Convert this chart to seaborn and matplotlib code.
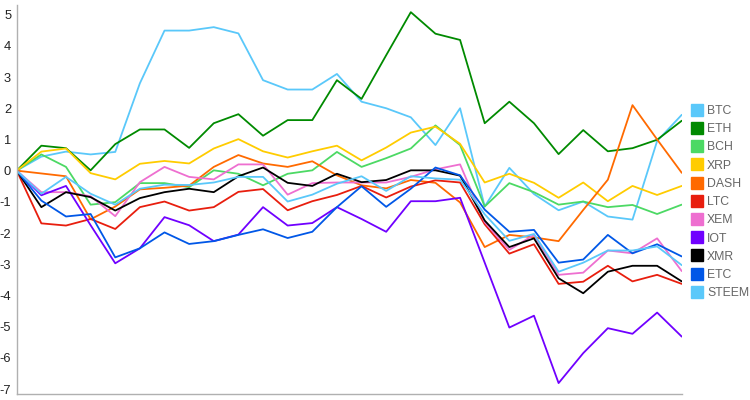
import matplotlib
matplotlib.use("Agg")
import matplotlib.pyplot as plt
from matplotlib.lines import Line2D
import seaborn as sns
import pandas as pd
import numpy as np

coins = ["BTC", "ETH", "BCH", "XRP", "DASH", "LTC", "XEM", "IOT", "XMR", "ETC", "STEEM"]
colors = ["#5ac8fa", "#008a00", "#4cd964", "#ffcc00", "#ff6a00", "#e81e0e",
          "#ee6fd0", "#7000ff", "#000000", "#0057e7", "#5ac8fa"]

BTC = [0, 0.45, 0.61, 0.52, 0.6, 2.8, 4.49, 4.49, 4.6, 4.4, 2.9, 2.6, 2.6, 3.1,
       2.21, 2.0, 1.71, 0.82, 2.0, -1.15, 0.09, -0.75, -1.27, -0.99, -1.47, -1.57, 0.95, 1.79]
ETH = [0, 0.8, 0.72, 0.01, 0.85, 1.32, 1.32, 0.73, 1.52, 1.81, 1.12, 1.62, 1.62, 2.9,
       2.3, 3.7, 5.08, 4.39, 4.19, 1.52, 2.21, 1.52, 0.53, 1.3, 0.62, 0.72, 0.99, 1.6]
BCH = [0, 0.52, 0.12, -1.09, -1.01, -0.4, -0.4, -0.53, 0.01, -0.1, -0.47, -0.1, 0.01, 0.6,
       0.12, 0.4, 0.71, 1.45, 0.82, -1.15, -0.4, -0.69, -1.09, -0.99, -1.17, -1.1, -1.39, -1.09]
XRP = [0, 0.61, 0.71, -0.08, -0.28, 0.22, 0.31, 0.23, 0.71, 1.01, 0.62, 0.42, 0.62, 0.8,
       0.33, 0.74, 1.22, 1.41, 0.86, -0.38, -0.1, -0.39, -0.87, -0.38, -0.98, -0.49, -0.78, -0.49]
DASH = [0, -0.09, -0.18, -1.56, -1.15, -0.6, -0.55, -0.48, 0.12, 0.5, 0.23, 0.12, 0.3, -0.15,
        -0.47, -0.57, -0.3, -0.39, -1.02, -2.45, -2.06, -2.14, -2.26, -1.26, -0.29, 2.1, 1.0, -0.07]
LTC = [0, -1.69, -1.76, -1.55, -1.87, -1.17, -0.99, -1.28, -1.17, -0.68, -0.59, -1.27, -0.98, -0.78,
       -0.49, -0.86, -0.51, -0.31, -0.38, -1.72, -2.66, -2.36, -3.63, -3.56, -3.05, -3.55, -3.34, -3.63]
XEM = [0, -0.69, -0.69, -0.82, -1.46, -0.37, 0.12, -0.2, -0.28, 0.2, 0.2, -0.77, -0.4, -0.38,
       -0.38, -0.38, -0.2, 0.04, 0.2, -1.65, -2.54, -2.06, -3.34, -3.27, -2.56, -2.65, -2.17, -3.22]
IOT = [0, -0.79, -0.49, -1.75, -2.97, -2.49, -1.49, -1.75, -2.26, -2.05, -1.17, -1.76, -1.68, -1.17,
       -1.55, -1.96, -0.98, -0.98, -0.87, -2.95, -5.03, -4.65, -6.81, -5.85, -5.05, -5.23, -4.55, -5.32]
XMR = [0, -1.17, -0.69, -0.85, -1.28, -0.88, -0.69, -0.58, -0.69, -0.18, 0.1, -0.39, -0.49, -0.1,
       -0.37, -0.3, 0.01, 0.01, -0.16, -1.6, -2.45, -2.17, -3.45, -3.93, -3.24, -3.05, -3.05, -3.55]
ETC = [0, -0.96, -1.47, -1.39, -2.78, -2.49, -1.98, -2.35, -2.26, -2.06, -1.88, -2.16, -1.96, -1.17,
       -0.5, -1.16, -0.58, 0.1, -0.15, -1.25, -1.96, -1.9, -2.95, -2.85, -2.06, -2.65, -2.36, -2.75]
STEEM = [0, -0.74, -0.2, -0.74, -1.09, -0.58, -0.45, -0.46, -0.38, -0.2, -0.2, -0.99, -0.77, -0.42,
         -0.18, -0.65, -0.18, -0.25, -0.29, -1.4, -2.25, -2.03, -3.24, -2.95, -2.56, -2.56, -2.43, -3.03]

series = {"BTC": BTC, "ETH": ETH, "BCH": BCH, "XRP": XRP, "DASH": DASH, "LTC": LTC,
          "XEM": XEM, "IOT": IOT, "XMR": XMR, "ETC": ETC, "STEEM": STEEM}
yticks = [5, 4, 3, 2, 1, 0, -1, -2, -3, -4, -5, -6, -7]

rows = []
for c in coins:
    for i, v in enumerate(series[c]):
        rows.append({"step": i, "value": v, "coin": c})
df = pd.DataFrame(rows)

sns.set_theme(style="white")
plt.rcParams["font.family"] = ["Liberation Sans", "DejaVu Sans"]

fig = plt.figure(figsize=(7.5, 4), dpi=100)
ax = fig.add_axes([0.0223, 0.015, 0.909 - 0.0223, 0.9875 - 0.015])
palette = dict(zip(coins, colors))
sns.lineplot(data=df, x="step", y="value", hue="coin", hue_order=coins,
             palette=palette, linewidth=1.3, legend=False, ax=ax, estimator=None)

ax.set_xlim(0, 27)
ax.set_ylim(-7.16, 5.31)
ax.set_yticks(yticks)
ax.set_yticklabels([str(t) for t in yticks])
ax.set_xticks([])
ax.set_xlabel("")
ax.set_ylabel("")
ax.tick_params(axis="y", length=0, pad=4, labelsize=9.3, labelcolor="#222222")
for s in ["top", "right"]:
    ax.spines[s].set_visible(False)
for s in ["left", "bottom"]:
    ax.spines[s].set_color("#b0b0b0")
    ax.spines[s].set_linewidth(1.0)

handles = [Line2D([0], [0], marker="s", linestyle="none", markersize=9,
                  markerfacecolor=col, markeredgecolor=col) for col in colors]
leg = fig.legend(handles, coins, loc="upper left", bbox_to_anchor=(0.915, 0.75),
                 frameon=False, fontsize=8.8, handletextpad=0.3, labelspacing=0.51,
                 borderaxespad=0, handlelength=1.0)
for t in leg.get_texts():
    t.set_color("#666666")

fig.savefig("out.png", dpi=100)
